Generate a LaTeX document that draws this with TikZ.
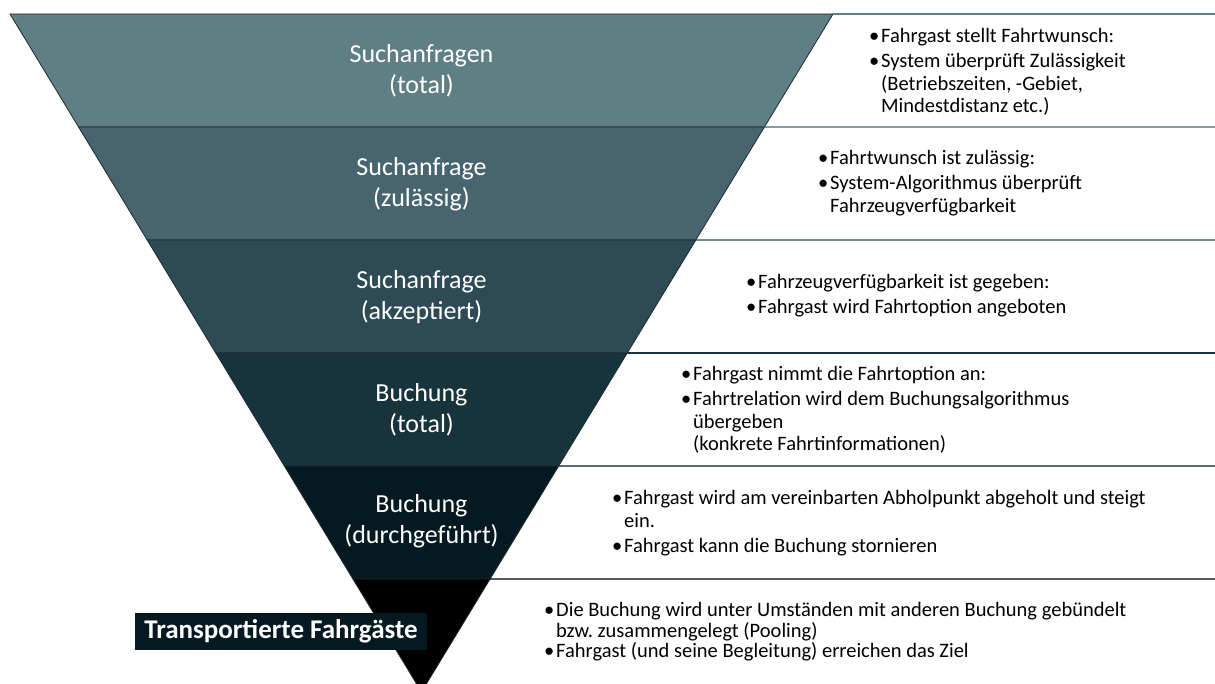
\documentclass[tikz,border=0pt]{standalone}
\usepackage{fontspec}
\setmainfont{Carlito}
\usetikzlibrary{calc}
\frenchspacing
\definecolor{bandA}{RGB}{95,127,132}
\definecolor{bandB}{RGB}{72,101,111}
\definecolor{bandC}{RGB}{46,74,84}
\definecolor{bandD}{RGB}{23,51,60}
\definecolor{bandE}{RGB}{5,26,32}
\definecolor{bandF}{RGB}{0,0,0}
\definecolor{edgecol}{RGB}{30,42,46}
\newcommand\bul{\makebox[12pt][l]{\textbullet}}
\newcommand\ind{\hspace*{12pt}}
\tikzset{
  band/.style={fill=#1, draw=edgecol, line width=0.8pt},
  sep/.style={draw=#1, line width=1.3pt},
  bandlabel/.style={text=white, align=center, inner sep=0pt,
    font=\fontsize{26}{31}\selectfont},
  info/.style={anchor=west, align=left, inner sep=0pt, text=black,
    font=\fontsize{20.5}{22.5}\selectfont},
  infotight/.style={info, font=\fontsize{20.5}{20.5}\selectfont},
  finalbox/.style={fill=bandE, text=white, inner sep=0pt,
    minimum width=292pt, minimum height=37pt, font=\fontsize{27}{31}\selectfont\bfseries}
}
\begin{document}
\begin{tikzpicture}[x=1pt,y=-1pt]
\useasboundingbox (0,0) rectangle (1215,684);
\clip (0,0) rectangle (1215,684);
\coordinate (TL) at (10,14);
\coordinate (TR) at (833,14);
\coordinate (AP) at (421.5,692);
\foreach \i in {0,...,5}{
  \coordinate (L\i) at ($(TL)!\i/6!(AP)$);
  \coordinate (R\i) at ($(TR)!\i/6!(AP)$);
}
% bands
\draw[band=bandA] (L0) -- (R0) -- (R1) -- (L1) -- cycle;
\draw[band=bandB] (L1) -- (R1) -- (R2) -- (L2) -- cycle;
\draw[band=bandC] (L2) -- (R2) -- (R3) -- (L3) -- cycle;
\draw[band=bandD] (L3) -- (R3) -- (R4) -- (L4) -- cycle;
\draw[band=bandE] (L4) -- (R4) -- (R5) -- (L5) -- cycle;
\draw[band=bandF] (L5) -- (R5) -- (AP) -- cycle;
% separators in the text column
\coordinate (E0) at (1215,14);
\coordinate (E1) at (1215,127);
\coordinate (E2) at (1215,240);
\coordinate (E3) at (1215,353);
\coordinate (E4) at (1215,466);
\coordinate (E5) at (1215,579);
\draw[sep=bandA] (R0) -- (E0);
\draw[sep=bandB] (R1) -- (E1);
\draw[sep=bandC] (R2) -- (E2);
\draw[sep=bandD] (R3) -- (E3);
\draw[sep=bandE] (R4) -- (E4);
\draw[sep=bandF] (R5) -- (E5);
% band labels
\node[bandlabel] (l1) at (421.5,71) {Suchanfragen\\(total)};
\node[bandlabel] (l2) at (421.5,184) {Suchanfrage\\(zulässig)};
\node[bandlabel] (l3) at (421.5,297) {Suchanfrage\\(akzeptiert)};
\node[bandlabel] (l4) at (421.5,410) {Buchung\\(total)};
\node[bandlabel] (l5) at (421.5,521) {Buchung\\(durchgeführt)};
\node[finalbox] (l6) at (281,631.5) {Transportierte Fahrgäste};
% info texts
\node[info] (t1) at (869,72) {\bul Fahrgast stellt Fahrtwunsch:\\[2.5pt]
  \bul System überprüft Zulässigkeit\\
  \ind (Betriebszeiten, -Gebiet,\\
  \ind Mindestdistanz etc.)};
\node[info] (t2) at (818,183) {\bul Fahrtwunsch ist zulässig:\\[2.5pt]
  \bul System-Algorithmus überprüft\\
  \ind Fahrzeugverfügbarkeit};
\node[info] (t3) at (746,296) {\bul Fahrzeugverfügbarkeit ist gegeben:\\[2.5pt]
  \bul Fahrgast wird Fahrtoption angeboten};
\node[info] (t4) at (681,410) {\bul Fahrgast nimmt die Fahrtoption an:\\[2.5pt]
  \bul Fahrtrelation wird dem Buchungsalgorithmus\\
  \ind übergeben\\
  \ind (konkrete Fahrtinformationen)};
\node[info] (t5) at (612,523) {\bul Fahrgast wird am vereinbarten Abholpunkt abgeholt und steigt\\
  \ind ein.\\[2.5pt]
  \bul Fahrgast kann die Buchung stornieren};
\node[infotight] (t6) at (544,632) {\bul Die Buchung wird unter Umständen mit anderen Buchung gebündelt\\
  \ind bzw. zusammengelegt (Pooling)\\
  \bul Fahrgast (und seine Begleitung) erreichen das Ziel};
\end{tikzpicture}
\end{document}
